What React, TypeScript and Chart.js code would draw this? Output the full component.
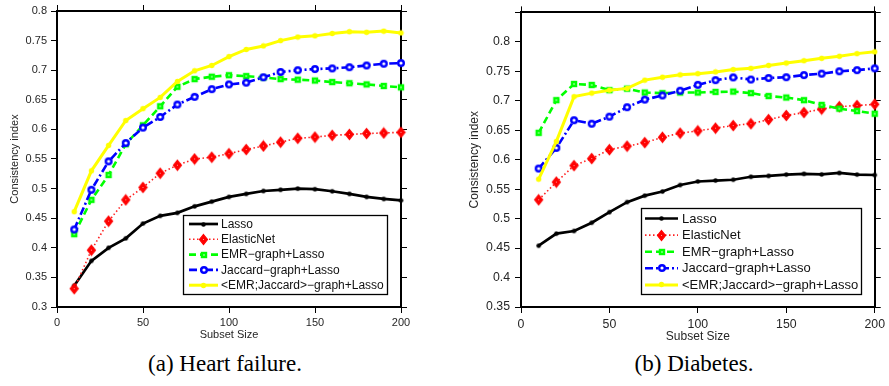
import React, { useEffect, useRef } from "react";
import { Chart, registerables } from "chart.js";

Chart.register(...registerables);

// ---------- data ----------
const subsetSizes = [10, 20, 30, 40, 50, 60, 70, 80, 90, 100, 110, 120, 130, 140, 150, 160, 170, 180, 190, 200];
const seriesNames = ["Lasso", "ElasticNet", "EMR\u2212graph+Lasso", "Jaccard\u2212graph+Lasso", "<EMR;Jaccard>\u2212graph+Lasso"];

// (a) Heart failure
const lassoHF = [0.336, 0.378, 0.400, 0.416, 0.441, 0.454, 0.459, 0.470, 0.478, 0.486, 0.491, 0.496, 0.498, 0.500, 0.499, 0.4955, 0.491, 0.486, 0.4825, 0.480];
const elasticHF = [0.331, 0.396, 0.445, 0.481, 0.502, 0.526, 0.5395, 0.550, 0.553, 0.559, 0.566, 0.572, 0.5785, 0.585, 0.587, 0.590, 0.5915, 0.593, 0.594, 0.595];
const emrHF = [0.423, 0.481, 0.523, 0.575, 0.607, 0.639, 0.672, 0.685, 0.689, 0.6915, 0.690, 0.6876, 0.685, 0.684, 0.6825, 0.680, 0.678, 0.676, 0.6734, 0.671];
const jaccardHF = [0.431, 0.498, 0.546, 0.577, 0.603, 0.621, 0.642, 0.655, 0.668, 0.676, 0.679, 0.688, 0.697, 0.700, 0.702, 0.703, 0.705, 0.708, 0.711, 0.712];
const combinedHF = [0.461, 0.530, 0.573, 0.615, 0.635, 0.654, 0.681, 0.699, 0.708, 0.723, 0.735, 0.741, 0.750, 0.756, 0.758, 0.762, 0.765, 0.764, 0.766, 0.763];

// (b) Diabetes
const lassoDB = [0.454, 0.4745, 0.479, 0.493, 0.511, 0.528, 0.539, 0.546, 0.557, 0.563, 0.5646, 0.566, 0.571, 0.5725, 0.5747, 0.576, 0.575, 0.5775, 0.5747, 0.574];
const elasticDB = [0.532, 0.562, 0.590, 0.602, 0.617, 0.623, 0.629, 0.638, 0.645, 0.649, 0.6535, 0.658, 0.661, 0.668, 0.675, 0.680, 0.686, 0.690, 0.692, 0.694];
const emrDB = [0.6456, 0.701, 0.7285, 0.7268, 0.718, 0.7206, 0.714, 0.713, 0.714, 0.714, 0.715, 0.7156, 0.713, 0.708, 0.7055, 0.701, 0.693, 0.6866, 0.6826, 0.678];
const jaccardDB = [0.585, 0.620, 0.667, 0.661, 0.673, 0.689, 0.702, 0.709, 0.717, 0.727, 0.735, 0.7396, 0.736, 0.7386, 0.740, 0.7436, 0.746, 0.750, 0.752, 0.755];
const combinedDB = [0.567, 0.631, 0.707, 0.713, 0.718, 0.721, 0.735, 0.740, 0.744, 0.746, 0.749, 0.753, 0.755, 0.760, 0.764, 0.768, 0.772, 0.7755, 0.780, 0.783];

const xTickStep = 50;
const yTickStep = 0.05;

const SANS = '"Liberation Sans", Arial, sans-serif';
const TEXT = "#262626";

// ---------- markers ----------
function makeMarker(kind: string): HTMLCanvasElement {
  const c = document.createElement("canvas");
  const g = c.getContext("2d") as CanvasRenderingContext2D;
  if (kind === "blackDot" || kind === "yellowDot") {
    c.width = 7; c.height = 7;
    g.fillStyle = kind === "blackDot" ? "#000000" : "#ffff00";
    g.beginPath(); g.arc(3.5, 3.5, kind === "blackDot" ? 2.3 : 2.7, 0, Math.PI * 2); g.fill();
  } else if (kind === "diamond") {
    c.width = 11; c.height = 13;
    g.fillStyle = "#ff0000"; g.strokeStyle = "#ff0000"; g.lineWidth = 1.2;
    g.beginPath(); g.moveTo(5.5, 1.5); g.lineTo(9.5, 6.5); g.lineTo(5.5, 11.5); g.lineTo(1.5, 6.5); g.closePath();
    g.fill(); g.stroke();
    g.fillStyle = "#ff9a9a"; g.fillRect(5, 6, 1, 1);
  } else if (kind === "square") {
    c.width = 10; c.height = 10;
    g.fillStyle = "#9dff9d"; g.fillRect(3, 3, 4, 4);
    g.strokeStyle = "#00ff00"; g.lineWidth = 2.4; g.strokeRect(3, 3, 4, 4);
  } else if (kind === "circle") {
    c.width = 12; c.height = 12;
    g.fillStyle = "#ffffff"; g.beginPath(); g.arc(6, 6, 2.8, 0, Math.PI * 2); g.fill();
    g.strokeStyle = "#0000ff"; g.lineWidth = 2.4; g.beginPath(); g.arc(6, 6, 2.8, 0, Math.PI * 2); g.stroke();
  }
  return c;
}

// ---------- boxed legend plugin ----------
const boxLegend = {
  id: "boxLegend",
  afterDatasetsDraw(chart: any, _args: any, opts: any) {
    const { ctx, chartArea } = chart;
    const ds = chart.data.datasets;
    ctx.save();
    ctx.font = `${opts.fontSize}px ${SANS}`;
    const textW = Math.max(...ds.map((d: any) => ctx.measureText(d.label).width));
    const w = opts.padL + opts.sample + opts.gap + textW + opts.padR;
    const h = opts.padT + opts.rowH * (ds.length - 1) + opts.padB;
    const right = Math.round(chartArea.right - opts.right);
    const bottom = Math.round(chartArea.bottom - opts.bottom);
    const left = Math.round(right - w);
    const top = Math.round(bottom - h);
    ctx.fillStyle = "#ffffff";
    ctx.fillRect(left, top, right - left, bottom - top);
    ctx.strokeStyle = "#000000";
    ctx.lineWidth = 1.3;
    ctx.setLineDash([]);
    ctx.strokeRect(left + 0.5, top + 0.5, right - left, bottom - top);
    ds.forEach((d: any, i: number) => {
      const y = top + opts.padT + i * opts.rowH;
      const x0 = left + opts.padL;
      const x1 = x0 + opts.sample;
      ctx.strokeStyle = d.borderColor;
      ctx.lineWidth = d.borderWidth;
      ctx.setLineDash(d.borderDash || []);
      ctx.beginPath(); ctx.moveTo(x0, y); ctx.lineTo(x1, y); ctx.stroke();
      ctx.setLineDash([]);
      const m = d.pointStyle as HTMLCanvasElement;
      ctx.drawImage(m, Math.round((x0 + x1) / 2 - m.width / 2), Math.round(y - m.height / 2));
      ctx.fillStyle = "#111111";
      ctx.textBaseline = "middle";
      ctx.textAlign = "left";
      ctx.fillText(d.label, x1 + opts.gap, y + 0.5);
    });
    ctx.restore();
  },
};

type PanelCfg = {
  series: number[][];
  yMin: number;
  yMax: number;
  hideTop: boolean;
  leftW: number;
  rightW: number;
  topH: number;
  bottomH: number;
  tickFont: number;
  titleFont: number;
  xTickPad: number;
  yTickPad: number;
  xTitlePad: number;
  yTitlePad: number;
  legend: any;
};

function buildConfig(p: PanelCfg): any {
  const markers = [makeMarker("blackDot"), makeMarker("diamond"), makeMarker("square"), makeMarker("circle"), makeMarker("yellowDot")];
  const colors = ["#000000", "#ff2020", "#00ff00", "#0000ff", "#ffff00"];
  const widths = [2.7, 1.6, 2.6, 2.6, 3];
  const dashes = [[], [1.5, 2.5], [7, 4], [8, 3, 2, 3], []];
  const orders = [4, 3, 2, 1, 0];
  const datasets = p.series.map((vals, i) => ({
    label: seriesNames[i],
    data: vals.map((v, j) => ({ x: subsetSizes[j], y: v })),
    borderColor: colors[i],
    backgroundColor: colors[i],
    borderWidth: widths[i],
    borderDash: dashes[i],
    pointStyle: markers[i],
    pointRadius: 4,
    pointHoverRadius: 4,
    tension: 0,
    fill: false,
    clip: false,
    order: orders[i],
  }));
  const grid = { display: true, drawOnChartArea: false, drawTicks: true, tickLength: 6, color: "#000000", lineWidth: 1 };
  const border = { display: true, color: "#000000", width: 2 };
  const fmt = (v: number) => {
    const r = Math.round(v * 100) / 100;
    if (p.hideTop && Math.abs(r - p.yMax) < 1e-6) return "";
    return String(r);
  };
  return {
    type: "line",
    data: { datasets },
    plugins: [boxLegend],
    options: {
      responsive: false,
      maintainAspectRatio: false,
      animation: false,
      devicePixelRatio: 1,
      layout: { padding: 0 },
      events: [],
      plugins: {
        legend: { display: false },
        title: { display: false },
        tooltip: { enabled: false },
        boxLegend: p.legend,
      },
      scales: {
        x: {
          type: "linear", position: "bottom", min: 0, max: 200,
          ticks: { stepSize: xTickStep, color: TEXT, font: { family: SANS, size: p.tickFont }, padding: p.xTickPad, maxRotation: 0 },
          grid, border,
          title: { display: true, text: "Subset Size", color: TEXT, font: { family: SANS, size: p.titleFont }, padding: { top: 0, bottom: p.xTitlePad } },
          afterFit: (s: any) => { s.height = p.bottomH; },
        },
        x2: {
          type: "linear", position: "top", min: 0, max: 200,
          ticks: { stepSize: xTickStep, callback: () => "", padding: 0 },
          grid, border,
          afterFit: (s: any) => { s.height = p.topH; },
        },
        y: {
          type: "linear", position: "left", min: p.yMin, max: p.yMax,
          ticks: { stepSize: yTickStep, color: TEXT, font: { family: SANS, size: p.tickFont }, padding: p.yTickPad, callback: (v: any) => fmt(Number(v)) },
          grid, border,
          title: { display: true, text: "Consistency index", color: TEXT, font: { family: SANS, size: p.titleFont }, padding: { top: p.yTitlePad, bottom: 0 } },
          afterFit: (s: any) => { s.width = p.leftW; },
        },
        y2: {
          type: "linear", position: "right", min: p.yMin, max: p.yMax,
          ticks: { stepSize: yTickStep, callback: () => "", padding: 0 },
          grid, border,
          afterFit: (s: any) => { s.width = p.rightW; },
        },
      },
    },
  };
}

const heartCfg: PanelCfg = {
  series: [lassoHF, elasticHF, emrHF, jaccardHF, combinedHF],
  yMin: 0.3, yMax: 0.8, hideTop: false,
  leftW: 57, rightW: 44, topH: 11, bottomH: 38,
  tickFont: 11, titleFont: 11,
  xTickPad: 3, yTickPad: 4, xTitlePad: 3, yTitlePad: 8,
  legend: { fontSize: 12, padL: 6, sample: 29, gap: 3, padR: 3, padT: 9, padB: 9, rowH: 15.3, right: 14, bottom: 13 },
};

const diabetesCfg: PanelCfg = {
  series: [lassoDB, elasticDB, emrDB, jaccardDB, combinedDB],
  yMin: 0.35, yMax: 0.85, hideTop: true,
  leftW: 76, rightW: 11, topH: 9, bottomH: 38,
  tickFont: 12.3, titleFont: 12,
  xTickPad: 4, yTickPad: 5, xTitlePad: 1, yTitlePad: 22,
  legend: { fontSize: 13, padL: 4, sample: 33, gap: 4, padR: 3, padT: 10.5, padB: 9, rowH: 16.6, right: 14, bottom: 13.5 },
};

function Panel({ cfg, left, width }: { cfg: PanelCfg; left: number; width: number }) {
  const ref = useRef<HTMLCanvasElement | null>(null);
  useEffect(() => {
    if (!ref.current) return;
    const chart = new Chart(ref.current, buildConfig(cfg));
    return () => chart.destroy();
  }, [cfg]);
  return (
    <canvas
      ref={ref}
      width={width}
      height={345}
      style={{ position: "absolute", left, top: 0, width, height: 345, display: "block" }}
    />
  );
}

export default function App() {
  useEffect(() => {
    document.body.style.margin = "0";
  }, []);
  const capStyle: React.CSSProperties = {
    position: "absolute",
    top: 352,
    width: 400,
    textAlign: "center",
    fontFamily: '"Liberation Serif", "Times New Roman", serif',
    fontSize: 23,
    lineHeight: "23px",
    color: "#000",
    whiteSpace: "nowrap",
  };
  return (
    <div style={{ position: "absolute", left: 0, top: 0, width: 889, height: 386, background: "#fff", overflow: "hidden" }}>
      <Panel cfg={heartCfg} left={0} width={445} />
      <Panel cfg={diabetesCfg} left={445} width={444} />
      <div style={{ ...capStyle, left: 25 }}>(a) Heart failure.</div>
      <div style={{ ...capStyle, left: 494 }}>(b) Diabetes.</div>
    </div>
  );
}
